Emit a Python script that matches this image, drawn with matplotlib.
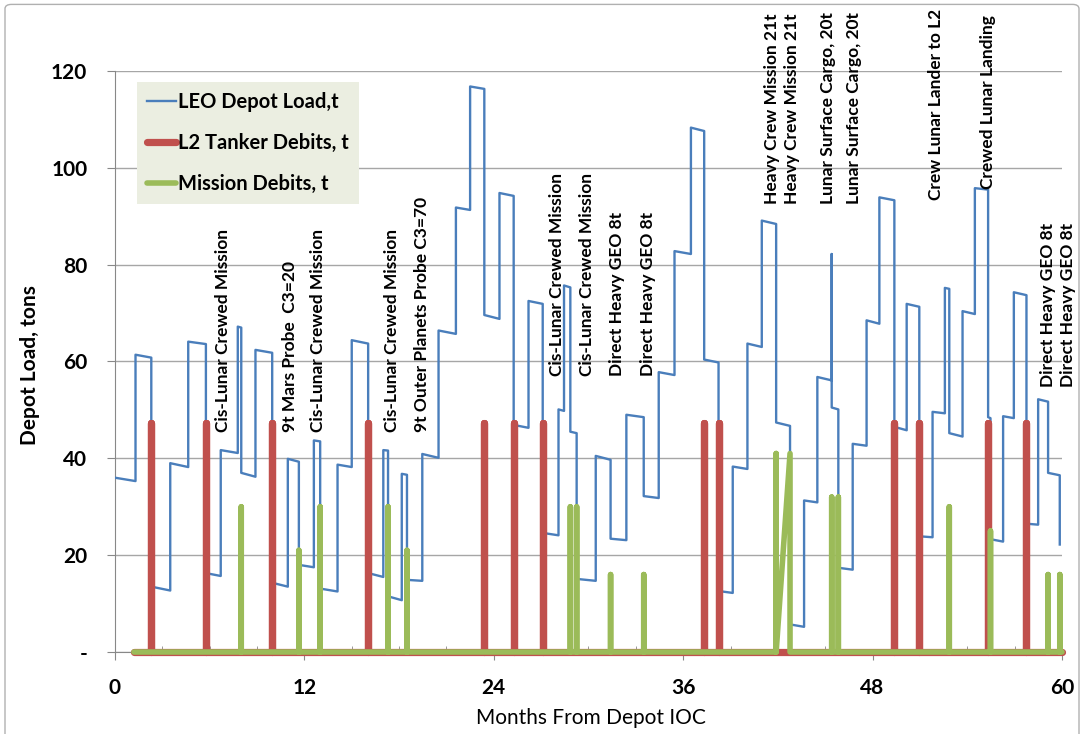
import matplotlib.pyplot as plt
import matplotlib.patches as mpatches
from matplotlib.ticker import MultipleLocator

plt.rcParams['font.family'] = ['Lato', 'DejaVu Sans']

# LEO depot load (t), month / tons
depot_month = [0, 1.3, 1.3, 2.3, 2.3, 3.5, 3.5, 4.64, 4.64, 5.76, 5.76, 6.7, 6.7,
               7.78, 7.78, 8.0, 8.0, 8.9, 8.9, 9.96, 9.96, 10.95, 10.95, 11.65, 11.65,
               12.6, 12.6, 13.0, 13.0, 14.1, 14.1, 15.0, 15.0, 16.04, 16.04, 17.0, 17.0,
               17.3, 17.3, 18.17, 18.17, 18.5, 18.5, 19.47, 19.47, 20.5, 20.5, 21.6, 21.6,
               22.5, 22.5, 23.4, 23.4, 24.36, 24.36, 25.26, 25.26, 26.2, 26.2, 27.1, 27.1,
               28.1, 28.1, 28.45, 28.45, 28.85, 28.85, 29.25, 29.25, 30.46, 30.46, 31.4, 31.4,
               32.4, 32.4, 33.5, 33.5, 34.45, 34.45, 35.45, 35.45, 36.49, 36.49, 37.33, 37.33,
               38.24, 38.24, 39.14, 39.14, 40.07, 40.07, 40.98, 40.98, 41.89, 41.89, 42.77, 42.77,
               43.66, 43.66, 44.5, 44.5, 45.41, 45.41, 45.41, 45.83, 45.83, 46.74, 46.74,
               47.62, 47.62, 48.43, 48.43, 49.38, 49.38, 50.16, 50.16, 50.96, 50.96, 51.8, 51.8,
               52.58, 52.58, 52.86, 52.86, 53.7, 53.7, 54.48, 54.48, 55.32, 55.32, 55.47, 55.47,
               56.27, 56.27, 56.95, 56.95, 57.75, 57.75, 58.49, 58.49, 59.12, 59.12, 59.86, 59.86]
depot_load = [36.0, 35.3, 61.4, 60.8, 13.5, 12.7, 39.0, 38.2, 64.1, 63.6, 16.3, 15.7, 41.7,
              41.1, 67.2, 67.0, 37.0, 36.2, 62.4, 61.8, 14.3, 13.5, 39.9, 39.3, 18.0,
              17.5, 43.7, 43.5, 13.1, 12.5, 38.7, 38.2, 64.4, 63.7, 16.3, 15.5, 41.7,
              41.6, 11.5, 10.7, 36.8, 36.6, 14.9, 14.7, 40.9, 40.1, 66.4, 65.7, 91.8,
              91.3, 116.8, 116.3, 69.6, 68.8, 94.8, 94.2, 46.9, 46.3, 72.5, 71.9, 24.6,
              24.1, 50.1, 49.8, 75.7, 75.3, 45.5, 45.2, 15.1, 14.7, 40.5, 39.7, 23.4,
              23.1, 49.0, 48.5, 32.2, 31.8, 57.8, 57.2, 82.8, 82.2, 108.3, 107.6, 60.4,
              59.8, 12.6, 12.2, 38.3, 37.8, 63.7, 63.0, 89.1, 88.4, 47.4, 46.7, 5.7,
              5.2, 31.3, 30.9, 56.8, 56.1, 82.2, 50.5, 50.1, 17.4, 17.0, 43.0,
              42.6, 68.5, 67.8, 93.9, 93.3, 46.5, 45.8, 71.9, 71.3, 23.9, 23.7, 49.6,
              49.3, 75.2, 75.0, 45.2, 44.5, 70.4, 69.8, 95.8, 95.5, 48.5, 48.3, 23.3,
              22.8, 48.7, 48.3, 74.3, 73.7, 26.5, 26.3, 52.2, 51.7, 37.0, 36.5, 22.2]

# L2 tanker debits (t)
tanker_month = [2.3, 5.76, 9.96, 16.04, 23.4, 25.26, 27.1, 37.33, 38.24, 49.38, 50.96, 55.32, 57.75]
tanker_load = [47.3] * 13

# mission debits (t)
mission_month = [8.0, 11.65, 13.0, 17.3, 18.5, 28.85, 29.25, 31.4, 33.5, 41.89, 42.77,
                 45.41, 45.83, 52.86, 55.47, 59.12, 59.86]
mission_load = [30, 21, 30, 30, 21, 30, 30, 16, 16, 41, 41, 32, 32, 30, 25, 16, 16]
mission_joined = [10]  # drawn straight from previous spike base (no flat part)

base_start, base_end = 1.2, 60.0

y_ticks = [0, 20, 40, 60, 80, 100, 120]
y_ticklabels = ['-', '20', '40', '60', '80', '100', '120']

# event labels
label_text = ['Cis-Lunar Crewed Mission', '9t Mars Probe  C3=20', 'Cis-Lunar Crewed Mission',
              'Cis-Lunar Crewed Mission', '9t Outer Planets Probe C3=70',
              'Cis-Lunar Crewed Mission', 'Cis-Lunar Crewed Mission',
              'Direct Heavy GEO 8t', 'Direct Heavy GEO 8t',
              'Heavy Crew Mission 21t', 'Heavy Crew Mission 21t',
              'Lunar Surface Cargo, 20t', 'Lunar Surface Cargo, 20t',
              'Crew Lunar Lander to L2', 'Crewed Lunar Landing',
              'Direct Heavy GEO 8t', 'Direct Heavy GEO 8t']
label_month = [6.84, 11.09, 12.86, 17.55, 19.45, 28.0, 29.9, 31.8, 33.8,
               41.6, 42.9, 45.2, 46.8, 52.0, 55.3, 59.1, 60.4]
label_base = [45.4, 45.4, 45.4, 45.4, 45.4, 57, 57, 57, 57,
              92.5, 92.5, 92.5, 92.5, 93.3, 95.6, 54.7, 54.7]


def spikes(months, loads, joined=()):
    xs, ys = [base_start], [0]
    for i, (m, h) in enumerate(zip(months, loads)):
        if i in joined:
            xs += [m, m]
            ys += [h, 0]
        else:
            xs += [m, m, m]
            ys += [0, h, 0]
    xs.append(base_end)
    ys.append(0)
    return xs, ys


fig = plt.figure(figsize=(10.91, 7.34), dpi=100)
fig.patches.append(mpatches.FancyBboxPatch((5 / 1091, -0.05), 1074 / 1091, 1.044,
                                           boxstyle='round,pad=0,rounding_size=0.006',
                                           transform=fig.transFigure, fc='none',
                                           ec='#B0B0B0', lw=1))
ax = fig.add_axes([0.1054, 0.1117, 0.868, 0.7916])

tx, ty = spikes(tanker_month, tanker_load)
mx, my = spikes(mission_month, mission_load, mission_joined)

ax.plot(depot_month, depot_load, color='#4A7EBB', lw=1.7, label='LEO Depot Load,t', zorder=3)
ax.plot(tx, ty, color='#C0504D', lw=5.2, solid_capstyle='round', solid_joinstyle='round',
        label='L2 Tanker Debits, t', clip_on=False, zorder=4)
ax.plot(mx, my, color='#9BBB59', lw=4.0, solid_capstyle='round', solid_joinstyle='round',
        label='Mission Debits, t', clip_on=False, zorder=5)

for t, m, b in zip(label_text, label_month, label_base):
    ax.text(m, b, t, rotation=90, ha='center', va='bottom', fontsize=12.5,
            fontweight='bold', color='black', zorder=6)

ax.set_xlim(0, 60)
ax.set_ylim(0, 120)
ax.xaxis.set_major_locator(MultipleLocator(12))
ax.xaxis.set_minor_locator(MultipleLocator(3))
ax.set_yticks(y_ticks, y_ticklabels)
ax.tick_params(axis='both', which='major', direction='out', length=6, color='#888888',
               labelsize=15)
ax.tick_params(axis='x', which='major', pad=13)
ax.tick_params(axis='y', which='major', pad=14)
ax.tick_params(axis='x', which='minor', direction='in', length=4, color='#888888')
for lab in ax.get_xticklabels() + ax.get_yticklabels():
    lab.set_fontweight('bold')

ax.grid(axis='y', color='#A6A6A6', lw=1)
ax.set_axisbelow(True)
for s in ['top', 'right']:
    ax.spines[s].set_visible(False)
for s in ['left', 'bottom']:
    ax.spines[s].set_color('#888888')

fig.text(30 / 1091, 1 - 365 / 734, 'Depot Load, tons', rotation=90, ha='center',
         va='center', fontsize=15, fontweight='bold')
fig.text(591 / 1091, 1 - 718 / 734, 'Months From Depot IOC', ha='center', va='center',
         fontsize=15)

leg = ax.legend(loc='upper left', bbox_to_anchor=(0.023, 0.981), borderaxespad=0,
                fontsize=14.5, frameon=True, fancybox=False, framealpha=1,
                facecolor='#EBEEE1', edgecolor='none', handlelength=1.45,
                handletextpad=0.1, labelspacing=1.05, borderpad=0.5)
for t in leg.get_texts():
    t.set_fontweight('bold')

fig.savefig('out.png', dpi=100)
